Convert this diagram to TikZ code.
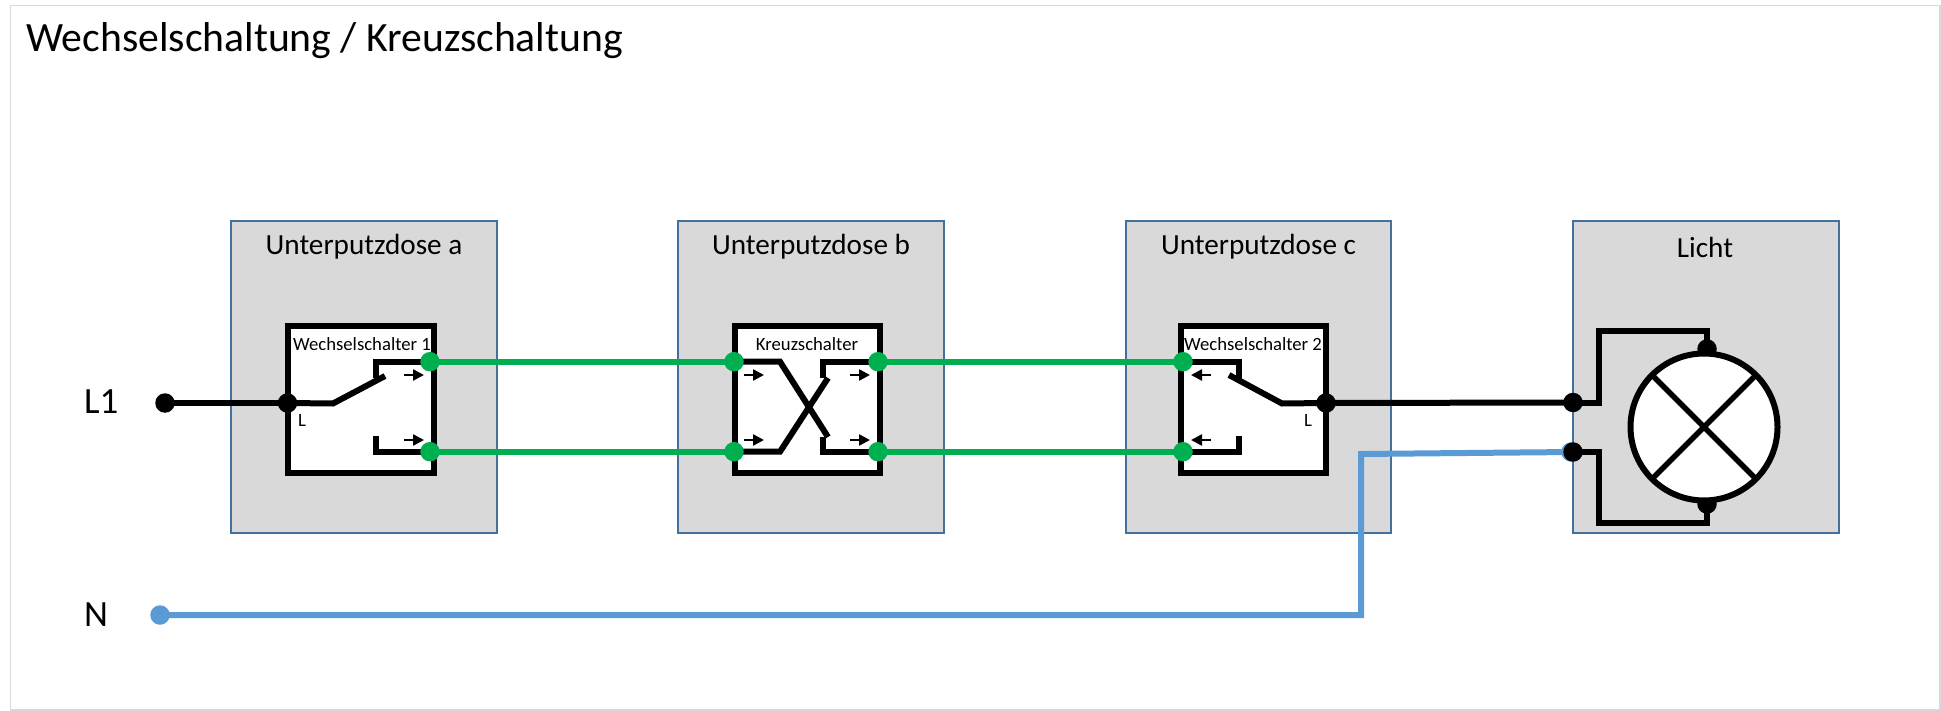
\documentclass[tikz,border=0pt]{standalone}
\usepackage{fontspec}
\setmainfont{Carlito}
\tikzset{
  dose/.style={draw=doseedge,fill=dosefill,line width=1.5pt},
  wire/.style={line width=6pt,line join=miter,line cap=butt},
  blackwire/.style={wire,draw=black},
  greenwire/.style={wire,draw=gruen},
  bluewire/.style={wire,draw=blau},
  swbox/.style={draw=black,fill=white,line width=6pt},
  bdot/.style={circle,fill=black,inner sep=0pt,minimum size=19.5pt},
  gdot/.style={circle,fill=gruen,inner sep=0pt,minimum size=19.5pt},
  ndot/.style={circle,fill=blau,inner sep=0pt,minimum size=19.5pt},
  txt/.style={inner sep=0pt,text=black},
  head/.style={txt,font=\fontsize{29.2}{32}\selectfont},
  small/.style={txt,font=\fontsize{18.7}{20}\selectfont},
  big/.style={txt,font=\fontsize{37}{40}\selectfont},
  dirarrow/.style={draw=black,line width=2.4pt,-{Triangle[length=11pt,width=11pt]}},
}
\definecolor{doseedge}{HTML}{41719C}
\definecolor{dosefill}{HTML}{D9D9D9}
\definecolor{gruen}{HTML}{00B050}
\definecolor{blau}{HTML}{5B9BD5}
\definecolor{rahmen}{HTML}{D9D9D9}
\usetikzlibrary{arrows.meta}
\begin{document}
\begin{tikzpicture}[x=1pt,y=-1pt]
\useasboundingbox (0,0) rectangle (1941,711);
\fill[white] (0,0) rectangle (1941,711);
\draw[rahmen,line width=1.3pt] (10.5,5.5) rectangle (1940,710);
\node[txt,font=\fontsize{41.7}{46}\selectfont,anchor=base west] (title) at (26,52) {Wechselschaltung / Kreuzschaltung};

% boxes
\node[dose,minimum width=266pt,minimum height=312pt,inner sep=0pt,outer sep=0pt] (boxa) at (364,377) {};
\node[dose,minimum width=266pt,minimum height=312pt,inner sep=0pt,outer sep=0pt] (boxb) at (811,377) {};
\node[dose,minimum width=265pt,minimum height=312pt,inner sep=0pt,outer sep=0pt] (boxc) at (1258.5,377) {};
\node[dose,minimum width=266pt,minimum height=312pt,inner sep=0pt,outer sep=0pt] (boxd) at (1706,377) {};
\node[head] (la) at (364,247) {Unterputzdose a};
\node[head] (lb) at (811,247) {Unterputzdose b};
\node[head] (lc) at (1258.5,247) {Unterputzdose c};
\node[head] (ld) at (1705,247) {Licht};

% switch bodies
\node[swbox,minimum width=146pt,minimum height=147pt,inner sep=0pt,outer sep=0pt] (swa) at (361,399.5) {};
\node[swbox,minimum width=145pt,minimum height=147pt,inner sep=0pt,outer sep=0pt] (swb) at (807.5,399.5) {};
\node[swbox,minimum width=145pt,minimum height=147pt,inner sep=0pt,outer sep=0pt] (swc) at (1253.5,399.5) {};
\node[small] (ta) at (362,344) {Wechselschalter 1};
\node[small] (tb) at (807,344) {Kreuzschalter};
\node[small] (tc) at (1253,344) {Wechselschalter 2};
\node[small] (la2) at (302,420) {L};
\node[small] (lc2) at (1308,420) {L};

% terminals
\coordinate (inL) at (287.5,403);
\coordinate (aT) at (430,361.7);
\coordinate (aB) at (430,451.7);
\coordinate (bLT) at (734,361.7);
\coordinate (bLB) at (734,451.7);
\coordinate (bRT) at (878,361.7);
\coordinate (bRB) at (878,451.7);
\coordinate (cT) at (1183,361.7);
\coordinate (cB) at (1183,451.7);
\coordinate (cL) at (1326,403);
\coordinate (lampA) at (1573,402.5);
\coordinate (lampB) at (1573,452);
\coordinate (lampT) at (1707,349);
\coordinate (lampU) at (1707,504);
\coordinate (srcL) at (165,403);
\coordinate (srcN) at (160,615);

% feed and green wires
\draw[blackwire] (srcL) -- (inL);
\draw[greenwire] (aT) -- (bLT);
\draw[greenwire] (aB) -- (bLB);
\draw[greenwire] (bRT) -- (cT);
\draw[greenwire] (bRB) -- (cB);
\draw[blackwire] (cL) -- (lampA);
\draw[bluewire] (srcN) -- (1361,615) -- (1361,454) -- (lampB);

% switch a
\draw[blackwire] (aT) -- (376,361.7) -- (376,378);
\draw[blackwire] (aB) -- (376,451.7) -- (376,436);
\draw[blackwire] (inL) -- (333,403.5) -- (385,376);
% switch b
\draw[blackwire] (bLT) -- (780,361.7) -- (828,437);
\draw[blackwire] (bLB) -- (780,451.7) -- (828,378);
\draw[blackwire] (bRT) -- (823,361.7) -- (823,378);
\draw[blackwire] (bRB) -- (823,451.7) -- (823,437);
% switch c
\draw[blackwire] (cT) -- (1239,361.7) -- (1239,378);
\draw[blackwire] (cB) -- (1239,451.7) -- (1239,436);
\draw[blackwire] (cL) -- (1282,403.5) -- (1229,375);

% direction arrows
\foreach \nm/\xa/\xb/\yy in {a/404/424/375,b/404/424/440,c/744/764/375,d/744/764/440,e/850/870/375,f/850/870/440,g/1211/1191/375,h/1211/1191/440}{
  \coordinate (ar\nm s) at (\xa,\yy);
  \coordinate (ar\nm e) at (\xb,\yy);
  \draw[dirarrow] (ar\nm s) -- (ar\nm e);
}

% lamp
\draw[blackwire] (lampA) -- (1599,402.5) -- (1599,331) -- (1707,331) -- (lampT);
\draw[blackwire] (lampB) -- (1599,452) -- (1599,523) -- (1707,523) -- (lampU);
\node[bdot] (dT) at (lampT) {};
\node[bdot] (dU) at (lampU) {};
\node[draw=black,fill=white,circle,line width=6pt,minimum size=147pt,inner sep=0pt,outer sep=0pt] (lamp) at (1704,427) {};
\draw[black,line width=5.4pt] (lamp.north west) -- (lamp.south east);
\draw[black,line width=5.4pt] (lamp.north east) -- (lamp.south west);

% dots
\node[bdot] (d1) at (srcL) {};
\node[bdot] (d2) at (inL) {};
\node[gdot] (g1) at (aT) {};
\node[gdot] (g2) at (aB) {};
\node[gdot] (g3) at (bLT) {};
\node[gdot] (g4) at (bLB) {};
\node[gdot] (g5) at (bRT) {};
\node[gdot] (g6) at (bRB) {};
\node[gdot] (g7) at (cT) {};
\node[gdot] (g8) at (cB) {};
\node[bdot] (d3) at (cL) {};
\node[ndot] (n1) at (1571,452) {};
\node[bdot] (d4) at (lampA) {};
\node[bdot] (d5) at (lampB) {};
\node[ndot] (n2) at (srcN) {};

\node[big,anchor=west] (L1) at (84,402) {L1};
\node[big,anchor=west] (N) at (84,615) {N};
\end{tikzpicture}
\end{document}
